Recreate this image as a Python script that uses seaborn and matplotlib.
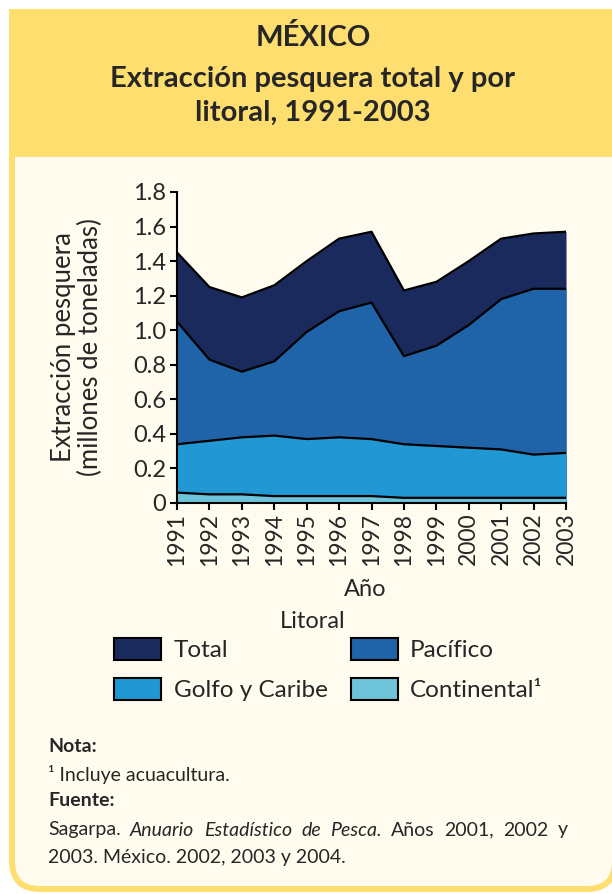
import matplotlib
matplotlib.use("Agg")
from matplotlib import pyplot as plt
from matplotlib.patches import FancyBboxPatch, Rectangle, Patch
import seaborn as sns
import pandas as pd

# data (millones de toneladas)
years = [1991, 1992, 1993, 1994, 1995, 1996, 1997, 1998, 1999, 2000, 2001, 2002, 2003]
total = [1.45, 1.25, 1.19, 1.26, 1.40, 1.53, 1.57, 1.23, 1.28, 1.40, 1.53, 1.56, 1.57]
pacifico = [1.05, 0.83, 0.76, 0.82, 0.99, 1.11, 1.16, 0.85, 0.91, 1.03, 1.18, 1.24, 1.24]
golfo = [0.34, 0.36, 0.38, 0.39, 0.37, 0.38, 0.37, 0.34, 0.33, 0.32, 0.31, 0.28, 0.29]
continental = [0.06, 0.05, 0.05, 0.04, 0.04, 0.04, 0.04, 0.03, 0.03, 0.03, 0.03, 0.03, 0.03]

series_names = ["Total", "Pacífico", "Golfo y Caribe", "Continental"]
series_values = [total, pacifico, golfo, continental]
series_colors = ["#1b2a5c", "#1f63a8", "#2197d3", "#6ec4da"]

YELLOW = "#ffde70"
CREAM = "#fffcef"

sns.set_style("ticks")
plt.rcParams["font.family"] = ["Lato", "DejaVu Sans"]

fig = plt.figure(figsize=(6.12, 8.94), dpi=100)
fig.patch.set_facecolor("white")

# background layer in pixel coordinates
bg = fig.add_axes([0, 0, 1, 1], zorder=-1)
bg.set_xlim(0, 612)
bg.set_ylim(894, 0)
bg.axis("off")
bg.add_patch(FancyBboxPatch((12, 12), 603, 877, boxstyle="round,pad=0,rounding_size=28",
                            facecolor=CREAM, edgecolor=YELLOW, linewidth=4.3))
bg.add_patch(Rectangle((9, 9), 612, 148, facecolor=YELLOW, edgecolor="none"))

bg.text(313, 38, "MÉXICO", ha="center", va="center", fontsize=21, fontweight="bold")
bg.text(313, 79, "Extracción pesquera total y por", ha="center", va="center",
        fontsize=21, fontweight="bold")
bg.text(313, 113, "litoral, 1991-2003", ha="center", va="center", fontsize=21, fontweight="bold")

# chart
ax = fig.add_axes([177 / 612, 1 - 503 / 894, 389 / 612, 311 / 894])
ax.set_facecolor("none")

df = pd.DataFrame({"Año": years * 4,
                   "valor": sum(series_values, []),
                   "Litoral": sum([[n] * len(years) for n in series_names], [])})

for name, vals, col in zip(series_names, series_values, series_colors):
    ax.fill_between(years, 0, vals, color=col, linewidth=0)
sns.lineplot(data=df, x="Año", y="valor", hue="Litoral", palette=["black"] * 4,
             linewidth=1.6, legend=False, ax=ax)

ax.set_xlim(1991, 2003)
ax.set_ylim(0, 1.8)
ax.set_xticks(years)
ax.set_xticklabels([str(y) for y in years], rotation=90, fontsize=16.5)
ax.set_yticks([0, 0.2, 0.4, 0.6, 0.8, 1.0, 1.2, 1.4, 1.6, 1.8])
ax.set_yticklabels(["0", "0.2", "0.4", "0.6", "0.8", "1.0", "1.2", "1.4", "1.6", "1.8"], fontsize=17)
ax.tick_params(axis="both", direction="out", length=5, width=1.5, color="black", pad=3)
ax.tick_params(axis="x", pad=2)
for s in ["top", "right"]:
    ax.spines[s].set_visible(False)
for s in ["left", "bottom"]:
    ax.spines[s].set_linewidth(1.5)
    ax.spines[s].set_color("black")

ax.set_xlabel("Año", fontsize=17)
ax.xaxis.set_label_coords(0.483, -0.245)
ax.set_ylabel("Extracción pesquera\n(millones de toneladas)", fontsize=18.5, linespacing=1.1)
ax.yaxis.set_label_coords(-0.19, 0.5)

bg.text(313, 621, "Litoral", ha="center", va="center", fontsize=17)
handles = [Patch(facecolor=c, edgecolor="black", linewidth=1.5) for c in series_colors]
labels = ["Total", "Pacífico", "Golfo y Caribe", "Continental¹"]
order = [0, 2, 1, 3]
fig.legend([handles[i] for i in order], [labels[i] for i in order], ncol=2,
           loc="upper left", bbox_to_anchor=(114 / 612, 1 - 638 / 894),
           frameon=False, fontsize=17.5,
           handlelength=1.95, handleheight=1.0, handletextpad=0.5,
           columnspacing=0.95, labelspacing=0.7, borderpad=0, borderaxespad=0)

# notes
bg.text(48, 747, "Nota:", ha="left", va="center", fontsize=14, fontweight="bold")
bg.text(48, 774, "¹ Incluye acuacultura.", ha="left", va="center", fontsize=14)
bg.text(48, 801, "Fuente:", ha="left", va="center", fontsize=14, fontweight="bold")

renderer = fig.canvas.get_renderer()
words = [("Sagarpa.", "normal"), ("Anuario", "italic"), ("Estadístico", "italic"),
         ("de", "italic"), ("Pesca.", "italic"), ("Años", "normal"), ("2001,", "normal"),
         ("2002", "normal"), ("y", "normal")]
items = [bg.text(0, 830, w, ha="left", va="center", fontsize=14, fontstyle=st) for w, st in words]
widths = [t.get_window_extent(renderer).width for t in items]
gap = (568 - 48 - sum(widths)) / (len(items) - 1)
x = 48
for t, w in zip(items, widths):
    t.set_x(x)
    x += w + gap
bg.text(48, 857, "2003. México. 2002, 2003 y 2004.", ha="left", va="center", fontsize=14)

fig.savefig("out.png", dpi=100)
